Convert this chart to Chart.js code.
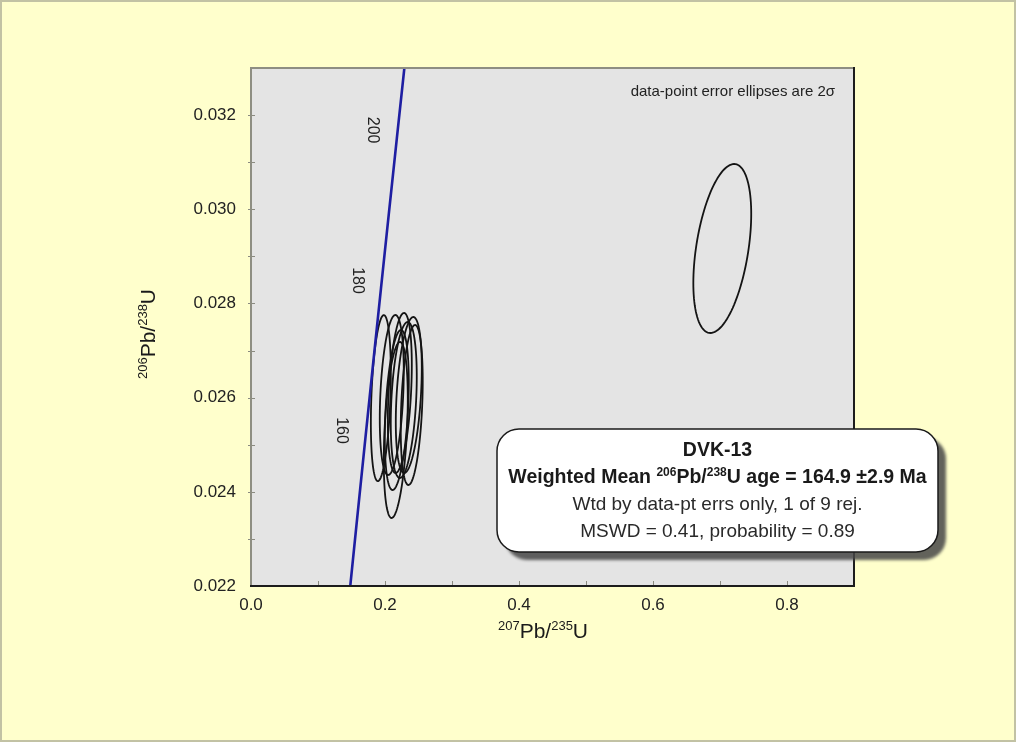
<!DOCTYPE html>
<html>
<head>
<meta charset="utf-8">
<title>DVK-13 concordia</title>
<script src="https://cdn.jsdelivr.net/npm/chart.js@4.4.1/dist/chart.umd.min.js"></script>
<style>
  html, body { margin: 0; padding: 0; background: #ffffcc; }
  #wrap { width: 1016px; height: 742px; }
</style>
</head>
<body>
<div id="wrap"><canvas id="c" width="1016" height="742"></canvas></div>
<script>
// Axis ticks
const xTicks = [0.0, 0.2, 0.4, 0.6, 0.8];
const yTicks = [0.022, 0.024, 0.026, 0.028, 0.030, 0.032];
const xMinorTicks = [0.1, 0.2, 0.3, 0.4, 0.5, 0.6, 0.7, 0.8];
const yMinorTicks = [0.023, 0.024, 0.025, 0.026, 0.027, 0.028, 0.029, 0.030, 0.031, 0.032];

// Concordia curve (age in Ma, 207Pb/235U, 206Pb/238U)
const concordiaAge = [140, 150, 160, 170, 180, 190, 200, 210];
const concordiaX = [0.14783, 0.15920, 0.17067, 0.18226, 0.19396, 0.20577, 0.21771, 0.22976];
const concordiaY = [0.021955, 0.023542, 0.025131, 0.026722, 0.028316, 0.029912, 0.031511, 0.033113];
const concordiaLabelAges = [160, 180, 200];

// Analyses: ratios, 2-sigma errors and error correlation
const ellipseX = [0.1938, 0.2161, 0.2101, 0.2221, 0.2280, 0.2355, 0.2399, 0.2176, 0.7034];
const ellipseY = [0.02599, 0.025313, 0.026056, 0.026099, 0.025950, 0.026056, 0.025844, 0.025737, 0.029167];
const ellipseErrX = [0.0149, 0.0179, 0.0179, 0.0179, 0.0194, 0.0194, 0.0164, 0.0179, 0.0432];
const ellipseErrY = [0.001763, 0.001869, 0.001699, 0.001699, 0.001656, 0.001656, 0.001699, 0.001699, 0.001794];
const ellipseRho = [0.3, 0.35, 0.3, 0.35, 0.3, 0.35, 0.3, 0.35, 0.41];

// Result box text
const sampleName = 'DVK-13';
const meanAge = '164.9';
const meanErr = '2.9';
const statsLine1 = 'Wtd by data-pt errs only, 1 of 9 rej.';
const statsLine2 = 'MSWD = 0.41, probability = 0.89';
const noteText = 'data-point error ellipses are 2\u03C3';

const FONT = "'Liberation Sans', Arial, Helvetica, sans-serif";

function richWidth(ctx, parts) {
  let w = 0;
  for (const p of parts) { ctx.font = p.font; w += ctx.measureText(p.t).width; }
  return w;
}
function drawRich(ctx, parts, cx, cy) {
  const w = richWidth(ctx, parts);
  let x = cx - w / 2;
  ctx.textAlign = 'left';
  ctx.textBaseline = 'middle';
  for (const p of parts) {
    ctx.font = p.font;
    ctx.fillText(p.t, x, cy + (p.dy || 0));
    x += ctx.measureText(p.t).width;
  }
}

const decor = {
  id: 'decor',
  beforeDraw(chart) {
    const ctx = chart.ctx, a = chart.chartArea;
    ctx.save();
    ctx.fillStyle = '#ffffcc';
    ctx.fillRect(0, 0, chart.width, chart.height);
    ctx.strokeStyle = '#c2c2a4';
    ctx.lineWidth = 2;
    ctx.strokeRect(1, 1, chart.width - 2, chart.height - 2);
    ctx.fillStyle = '#e4e4e4';
    ctx.fillRect(a.left, a.top, a.right - a.left, a.bottom - a.top);
    ctx.restore();
  },
  beforeDatasetsDraw(chart) {
    const ctx = chart.ctx, a = chart.chartArea;
    const xs = chart.scales.x, ys = chart.scales.y;
    ctx.save();
    ctx.beginPath();
    ctx.rect(a.left, a.top, a.right - a.left, a.bottom - a.top);
    ctx.clip();
    // error ellipses
    ctx.strokeStyle = '#141414';
    ctx.lineWidth = 1.8;
    for (let i = 0; i < ellipseX.length; i++) {
      const r = ellipseRho[i], q = Math.sqrt(1 - r * r);
      ctx.beginPath();
      for (let k = 0; k <= 120; k++) {
        const t = 2 * Math.PI * k / 120;
        const vx = ellipseX[i] + ellipseErrX[i] * Math.cos(t);
        const vy = ellipseY[i] + ellipseErrY[i] * (r * Math.cos(t) + q * Math.sin(t));
        const px = xs.getPixelForValue(vx), py = ys.getPixelForValue(vy);
        if (k === 0) ctx.moveTo(px, py); else ctx.lineTo(px, py);
      }
      ctx.closePath();
      ctx.stroke();
    }
    ctx.restore();
  },
  afterDatasetsDraw(chart) {
    const ctx = chart.ctx, a = chart.chartArea;
    const xs = chart.scales.x, ys = chart.scales.y;
    ctx.save();

    // concordia age labels, written downward beside the curve
    ctx.fillStyle = '#222';
    ctx.font = '16px ' + FONT;
    ctx.textAlign = 'center';
    ctx.textBaseline = 'middle';
    for (const age of concordiaLabelAges) {
      const i = concordiaAge.indexOf(age);
      const px = xs.getPixelForValue(concordiaX[i]) - 24;
      const py = ys.getPixelForValue(concordiaY[i]) - 8;
      ctx.save();
      ctx.translate(px, py);
      ctx.rotate(Math.PI / 2);
      ctx.fillText(String(age), 0, 0);
      ctx.restore();
    }

    // minor ticks
    ctx.strokeStyle = '#8a8a80';
    ctx.lineWidth = 1;
    for (const v of xMinorTicks) {
      const px = Math.round(xs.getPixelForValue(v)) + 0.5;
      ctx.beginPath(); ctx.moveTo(px, a.bottom); ctx.lineTo(px, a.bottom - 5); ctx.stroke();
    }
    for (const v of yMinorTicks) {
      const py = Math.round(ys.getPixelForValue(v)) + 0.5;
      ctx.beginPath(); ctx.moveTo(a.left - 3, py); ctx.lineTo(a.left + 4, py); ctx.stroke();
    }

    // plot frame: light top/left, dark bottom/right
    ctx.lineWidth = 2;
    ctx.strokeStyle = '#8e8e82';
    ctx.beginPath();
    ctx.moveTo(a.left, a.bottom); ctx.lineTo(a.left, a.top); ctx.lineTo(a.right, a.top);
    ctx.stroke();
    ctx.strokeStyle = '#1c1c1c';
    ctx.beginPath();
    ctx.moveTo(a.right, a.top - 1); ctx.lineTo(a.right, a.bottom); ctx.lineTo(a.left - 1, a.bottom);
    ctx.stroke();

    // note
    ctx.fillStyle = '#222';
    ctx.font = '15px ' + FONT;
    ctx.textAlign = 'right';
    ctx.textBaseline = 'middle';
    ctx.fillText(noteText, a.right - 19, a.top + 24);

    // axis titles with superscript mass numbers
    ctx.fillStyle = '#1a1a1a';
    const big = '21px ' + FONT, sup = '13px ' + FONT;
    drawRich(ctx, [
      { t: '207', font: sup, dy: -6 }, { t: 'Pb/', font: big },
      { t: '235', font: sup, dy: -6 }, { t: 'U', font: big }
    ], a.left + 292, 632);
    ctx.save();
    ctx.translate(149, 334);
    ctx.rotate(-Math.PI / 2);
    drawRich(ctx, [
      { t: '206', font: sup, dy: -6 }, { t: 'Pb/', font: big },
      { t: '238', font: sup, dy: -6 }, { t: 'U', font: big }
    ], 0, 0);
    ctx.restore();

    // result box
    const bx = 497, by = 429, bw = 441, bh = 123, rad = 22;
    ctx.save();
    ctx.filter = 'blur(1.5px)';
    ctx.fillStyle = 'rgba(70,70,70,0.85)';
    ctx.beginPath(); ctx.roundRect(bx + 8, by + 8, bw, bh, rad); ctx.fill();
    ctx.restore();
    ctx.fillStyle = '#ffffff';
    ctx.strokeStyle = '#1a1a1a';
    ctx.lineWidth = 1.5;
    ctx.beginPath(); ctx.roundRect(bx, by, bw, bh, rad); ctx.fill(); ctx.stroke();

    const cx = bx + bw / 2;
    ctx.fillStyle = '#1a1a1a';
    const bold = 'bold 19.5px ' + FONT, bsup = 'bold 12px ' + FONT, reg = '19px ' + FONT;
    drawRich(ctx, [{ t: sampleName, font: bold }], cx, 451);
    drawRich(ctx, [
      { t: 'Weighted Mean ', font: bold }, { t: '206', font: bsup, dy: -5 },
      { t: 'Pb/', font: bold }, { t: '238', font: bsup, dy: -5 },
      { t: 'U age = ' + meanAge + ' \u00B1' + meanErr + ' Ma', font: bold }
    ], cx, 478);
    ctx.fillStyle = '#2a2a2a';
    drawRich(ctx, [{ t: statsLine1, font: reg }], cx, 505);
    drawRich(ctx, [{ t: statsLine2, font: reg }], cx, 532);

    ctx.restore();
  }
};

new Chart(document.getElementById('c'), {
  type: 'scatter',
  data: {
    datasets: [{
      label: 'Concordia',
      data: concordiaX.map((x, i) => ({ x: x, y: concordiaY[i] })),
      showLine: true,
      borderColor: '#1e1ea2',
      borderWidth: 2.6,
      pointRadius: 0,
      fill: false
    }]
  },
  options: {
    responsive: false,
    animation: false,
    devicePixelRatio: 1,
    layout: { padding: { top: 68, right: 162, bottom: 0, left: 0 } },
    plugins: { legend: { display: false }, tooltip: { enabled: false } },
    scales: {
      x: {
        type: 'linear', min: 0, max: 0.9,
        afterBuildTicks: s => { s.ticks = xTicks.map(v => ({ value: v })); },
        afterFit: s => { s.height = 156; },
        grid: { display: false, drawTicks: false },
        border: { display: false },
        ticks: {
          font: { family: FONT, size: 17 }, color: '#222', padding: 9,
          maxRotation: 0, autoSkip: false,
          callback: v => Number(v).toFixed(1)
        }
      },
      y: {
        type: 'linear', min: 0.022, max: 0.033,
        afterBuildTicks: s => { s.ticks = yTicks.map(v => ({ value: v })); },
        afterFit: s => { s.width = 251; },
        grid: { display: false, drawTicks: false },
        border: { display: false },
        ticks: {
          font: { family: FONT, size: 17 }, color: '#222', padding: 15,
          autoSkip: false,
          callback: v => Number(v).toFixed(3)
        }
      }
    }
  },
  plugins: [decor]
});
</script>
</body>
</html>
